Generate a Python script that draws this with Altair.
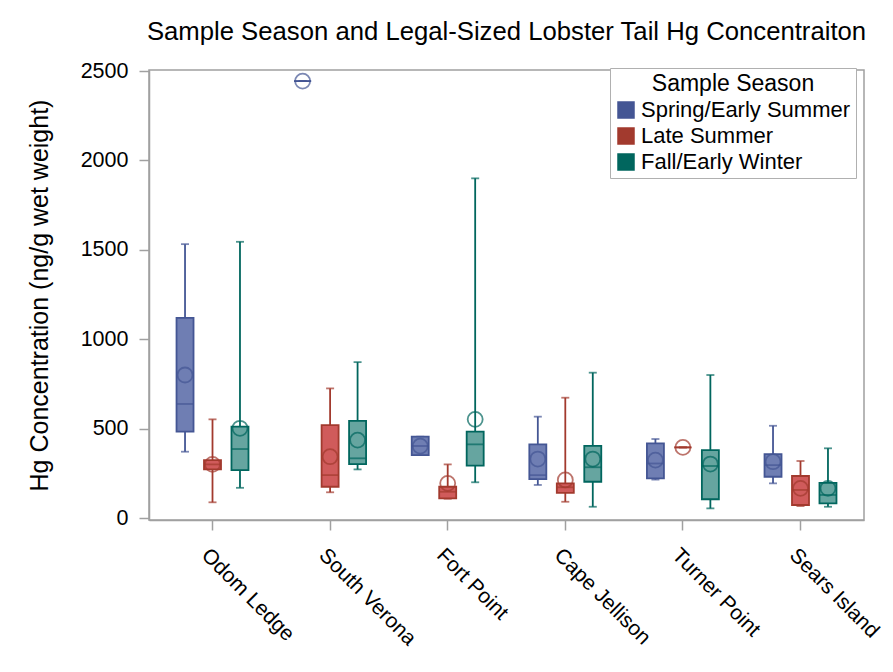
import altair as alt
import pandas as pd

sites = ["Odom Ledge", "South Verona", "Fort Point", "Cape Jellison", "Turner Point", "Sears Island"]
seasons = ["Spring/Early Summer", "Late Summer", "Fall/Early Winter"]
fill_colors = ["#6F7EB3", "#D05B5B", "#66A5A0"]
line_colors = ["#445694", "#A23A2E", "#01665E"]

# order: site-major, season-minor
low    = [371, 88, 169,   2444, 144, 272,   352, 108, 200,   185, 91, 63,    215, 395, 54,    194, 67, 63]
q1     = [483, 272, 268,  2444, 175, 302,   352, 110, 293,   218, 141, 203,  222, 395, 105,   231, 73, 82]
median = [638, 300, 386,  2444, 240, 334,   403, 147, 412,   240, 172, 284,  305, 395, 291,   296, 157, 129]
q3     = [1120, 324, 511, 2444, 520, 543,   455, 175, 483,   412, 194, 404,  418, 395, 380,   358, 235, 197]
high   = [1532, 552, 1545, 2444, 725, 872,  455, 300, 1900,  567, 673, 813,  442, 395, 800,   516, 319, 390]
mean   = [800, 300, 502,  2444, 343, 436,   402, 194, 552,   330, 213, 330,  324, 395, 302,   315, 166, 166]

rows = []
i = 0
for s in sites:
    for z in seasons:
        rows.append(dict(site=s, season=z, low=low[i], q1=q1[i], median=median[i],
                         q3=q3[i], high=high[i], mean=mean[i]))
        i += 1
df = pd.DataFrame(rows)

FONT = "Liberation Sans"
W, H = 715, 450

x_enc = alt.X("site:N", sort=sites, title=None,
              scale=alt.Scale(paddingInner=0, paddingOuter=0.04),
              axis=alt.Axis(labelAngle=45, labelAlign="left", labelBaseline="top",
                            labelFontSize=21, labelPadding=14, tickSize=10,
                            labelColor="#000", labelLimit=300))
xo = alt.XOffset("season:N", sort=seasons,
                 scale=alt.Scale(domain=seasons, paddingInner=0, paddingOuter=0.64))
fill_enc = alt.Fill("season:N", sort=seasons,
                    scale=alt.Scale(domain=seasons, range=fill_colors),
                    legend=alt.Legend(title="Sample Season"))
stroke_enc = alt.Stroke("season:N", sort=seasons,
                        scale=alt.Scale(domain=seasons, range=line_colors),
                        legend=alt.Legend(title="Sample Season"))
color_enc = alt.Color("season:N", sort=seasons,
                      scale=alt.Scale(domain=seasons, range=line_colors), legend=None)

yscale = alt.Scale(domain=[-11, 2506], nice=False, zero=False)
y_axis = alt.Axis(values=[0, 500, 1000, 1500, 2000, 2500], format="d", labelFontSize=21.5,
                  tickSize=10, labelPadding=11, labelColor="#000",
                  titleFontSize=25, titleFontWeight="normal", titleColor="#000",
                  titleX=-97, titleY=225, titleAngle=-90, titleAlign="center",
                  titleBaseline="bottom")
ytitle = "Hg Concentration (ng/g wet weight)"

base = alt.Chart(df)

whisk = base.mark_rule(strokeWidth=1.8).encode(
    x=x_enc, xOffset=xo,
    y=alt.Y("low:Q", scale=yscale, axis=y_axis, title=ytitle),
    y2="high:Q", stroke=stroke_enc)

cap_lo = base.mark_tick(size=8, thickness=1.8).encode(
    x=x_enc, xOffset=xo, y=alt.Y("low:Q", scale=yscale), color=color_enc)
cap_hi = base.mark_tick(size=8, thickness=1.8).encode(
    x=x_enc, xOffset=xo, y=alt.Y("high:Q", scale=yscale), color=color_enc)

box = base.mark_bar(size=17, strokeWidth=1.8).encode(
    x=x_enc, xOffset=xo, y=alt.Y("q1:Q", scale=yscale), y2="q3:Q",
    fill=fill_enc, stroke=stroke_enc)

med = base.mark_tick(size=17, thickness=1.8).encode(
    x=x_enc, xOffset=xo, y=alt.Y("median:Q", scale=yscale), color=color_enc)

mn = base.mark_point(shape="circle", filled=False, size=225, strokeWidth=1.8).encode(
    x=x_enc, xOffset=xo, y=alt.Y("mean:Q", scale=yscale), stroke=stroke_enc)

chart = alt.layer(whisk, cap_lo, cap_hi, box, med, mn).properties(
    width=W, height=H,
    title=alt.Title("Sample Season and Legal-Sized Lobster Tail Hg Concentraiton",
                    fontSize=25.7, fontWeight="normal", anchor="middle", frame="group",
                    offset=14, color="#000", font=FONT),
    autosize=alt.AutoSizeParams(type="none"),
    padding={"left": 141, "top": 62, "right": 21, "bottom": 140},
).configure_view(stroke="#A0A0A0", strokeWidth=1.5).configure_axis(
    domainColor="#A0A0A0", tickColor="#A0A0A0", grid=False, labelFont=FONT,
    titleFont=FONT, domainWidth=1.5, tickWidth=1.5
).configure_legend(
    orient="none", legendX=461, legendY=-2, strokeColor="#B0B0B0", fillColor="#FFFFFF",
    padding=5, symbolType="square", symbolSize=256, symbolStrokeWidth=1.5,
    labelFontSize=22, titleFontSize=23, titleFontWeight="normal", titleFont=FONT,
    labelFont=FONT, titleAnchor="middle", rowPadding=4, labelColor="#000",
    titleColor="#000", titlePadding=3, labelLimit=300
)

chart.save("out.html", embed_options={"renderer": "svg", "actions": False})
